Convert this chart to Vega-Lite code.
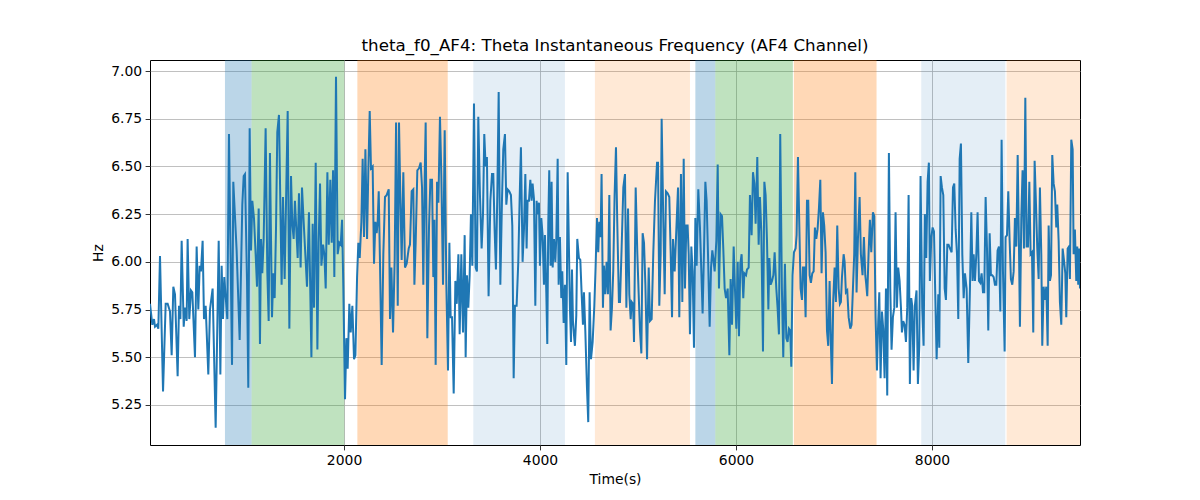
{
  "$schema": "https://vega.github.io/schema/vega-lite/v6.json",
  "width": 930,
  "height": 385,
  "autosize": {"type": "none"},
  "padding": {"left": 150, "top": 60, "right": 120, "bottom": 55},
  "background": "white",
  "title": {
    "text": "theta_f0_AF4: Theta Instantaneous Frequency (AF4 Channel)",
    "font": "DejaVu Sans",
    "fontSize": 16.7,
    "fontWeight": "normal",
    "color": "black",
    "offset": 5
  },
  "config": {
    "view": {"stroke": "black", "strokeWidth": 1},
    "axis": {
      "labelFont": "DejaVu Sans",
      "labelFontSize": 13.9,
      "labelColor": "black",
      "titleFont": "DejaVu Sans",
      "titleFontSize": 13.9,
      "titleFontWeight": "normal",
      "titleColor": "black",
      "domain": false,
      "tickColor": "black",
      "tickWidth": 0.8,
      "tickSize": 4.9,
      "labelPadding": 3.5,
      "gridColor": "#b0b0b0",
      "gridWidth": 0.8
    }
  },
  "datasets": {
    "bands": [
      {"start": 785, "end": 1057, "kind": "blue"},
      {"start": 1057, "end": 2003, "kind": "green"},
      {"start": 2136, "end": 3058, "kind": "orange"},
      {"start": 3319, "end": 4254, "kind": "lightblue"},
      {"start": 4560, "end": 5530, "kind": "lightorange"},
      {"start": 5585, "end": 5789, "kind": "blue"},
      {"start": 5789, "end": 6580, "kind": "green"},
      {"start": 6590, "end": 7434, "kind": "orange"},
      {"start": 7890, "end": 8748, "kind": "lightblue"},
      {"start": 8761, "end": 9510, "kind": "lightorange"}
    ],
    "signal": [
      {"t":20,"hz":5.78},{"t":44,"hz":5.67},{"t":61,"hz":5.70},{"t":71,"hz":5.66},{"t":91,"hz":5.67},{"t":105,"hz":5.65},{"t":122,"hz":6.03},{"t":153,"hz":5.32},{"t":180,"hz":5.78},{"t":200,"hz":5.78},
      {"t":224,"hz":5.74},{"t":241,"hz":5.51},{"t":258,"hz":5.87},{"t":275,"hz":5.83},{"t":302,"hz":5.40},{"t":316,"hz":5.77},{"t":330,"hz":5.70},{"t":343,"hz":6.11},{"t":364,"hz":5.66},{"t":377,"hz":5.76},
      {"t":394,"hz":5.69},{"t":404,"hz":6.12},{"t":421,"hz":5.70},{"t":438,"hz":5.85},{"t":452,"hz":5.84},{"t":479,"hz":5.50},{"t":496,"hz":6.08},{"t":513,"hz":5.75},{"t":527,"hz":5.98},{"t":540,"hz":5.95},
      {"t":557,"hz":6.11},{"t":571,"hz":5.70},{"t":588,"hz":5.77},{"t":615,"hz":5.41},{"t":632,"hz":5.75},{"t":659,"hz":5.86},{"t":690,"hz":5.13},{"t":721,"hz":6.11},{"t":738,"hz":5.41},{"t":751,"hz":5.98},
      {"t":765,"hz":5.70},{"t":778,"hz":5.92},{"t":809,"hz":5.70},{"t":826,"hz":6.67},{"t":857,"hz":5.46},{"t":870,"hz":6.42},{"t":904,"hz":6.06},{"t":935,"hz":5.59},{"t":962,"hz":6.30},{"t":976,"hz":6.45},
      {"t":989,"hz":6.46},{"t":1010,"hz":5.90},{"t":1023,"hz":5.34},{"t":1037,"hz":6.70},{"t":1051,"hz":6.06},{"t":1064,"hz":6.32},{"t":1081,"hz":6.23},{"t":1098,"hz":6.04},{"t":1112,"hz":5.87},{"t":1129,"hz":6.28},
      {"t":1142,"hz":5.57},{"t":1153,"hz":6.12},{"t":1166,"hz":5.94},{"t":1180,"hz":6.12},{"t":1200,"hz":6.70},{"t":1217,"hz":5.95},{"t":1231,"hz":5.69},{"t":1244,"hz":6.57},{"t":1265,"hz":5.71},{"t":1278,"hz":5.94},
      {"t":1292,"hz":5.81},{"t":1306,"hz":6.18},{"t":1319,"hz":6.68},{"t":1336,"hz":6.77},{"t":1363,"hz":5.88},{"t":1377,"hz":6.34},{"t":1394,"hz":5.91},{"t":1408,"hz":6.31},{"t":1425,"hz":6.79},{"t":1442,"hz":5.65},
      {"t":1459,"hz":6.45},{"t":1472,"hz":6.20},{"t":1486,"hz":6.12},{"t":1499,"hz":6.32},{"t":1527,"hz":6.02},{"t":1540,"hz":6.36},{"t":1557,"hz":5.97},{"t":1571,"hz":6.39},{"t":1591,"hz":6.18},{"t":1622,"hz":5.87},
      {"t":1642,"hz":6.26},{"t":1667,"hz":5.50},{"t":1680,"hz":6.20},{"t":1694,"hz":5.76},{"t":1711,"hz":6.52},{"t":1728,"hz":5.54},{"t":1741,"hz":6.10},{"t":1755,"hz":6.41},{"t":1769,"hz":5.98},{"t":1786,"hz":6.09},
      {"t":1799,"hz":6.04},{"t":1813,"hz":5.86},{"t":1830,"hz":6.47},{"t":1844,"hz":6.09},{"t":1860,"hz":6.43},{"t":1874,"hz":6.10},{"t":1888,"hz":6.48},{"t":1901,"hz":5.92},{"t":1918,"hz":6.97},{"t":1935,"hz":6.04},
      {"t":1952,"hz":6.10},{"t":1966,"hz":6.09},{"t":1980,"hz":6.22},{"t":1993,"hz":5.86},{"t":2010,"hz":5.28},{"t":2024,"hz":5.60},{"t":2037,"hz":5.44},{"t":2054,"hz":5.78},{"t":2068,"hz":5.63},{"t":2085,"hz":5.77},
      {"t":2102,"hz":5.49},{"t":2116,"hz":5.51},{"t":2133,"hz":5.92},{"t":2146,"hz":6.10},{"t":2160,"hz":6.02},{"t":2177,"hz":6.21},{"t":2190,"hz":6.54},{"t":2204,"hz":6.13},{"t":2218,"hz":6.59},{"t":2235,"hz":6.12},
      {"t":2248,"hz":6.48},{"t":2262,"hz":6.79},{"t":2275,"hz":6.49},{"t":2292,"hz":6.50},{"t":2306,"hz":5.99},{"t":2320,"hz":6.21},{"t":2333,"hz":6.15},{"t":2343,"hz":6.21},{"t":2354,"hz":6.37},{"t":2367,"hz":5.99},
      {"t":2384,"hz":5.46},{"t":2401,"hz":6.04},{"t":2418,"hz":6.34},{"t":2435,"hz":6.35},{"t":2456,"hz":6.38},{"t":2469,"hz":5.70},{"t":2483,"hz":5.97},{"t":2500,"hz":5.63},{"t":2517,"hz":6.02},{"t":2531,"hz":6.73},
      {"t":2548,"hz":5.77},{"t":2561,"hz":6.73},{"t":2575,"hz":6.33},{"t":2588,"hz":6.01},{"t":2605,"hz":6.47},{"t":2622,"hz":5.97},{"t":2639,"hz":5.99},{"t":2660,"hz":6.07},{"t":2673,"hz":6.09},{"t":2690,"hz":6.37},
      {"t":2707,"hz":6.38},{"t":2718,"hz":5.88},{"t":2731,"hz":6.10},{"t":2748,"hz":6.48},{"t":2765,"hz":6.49},{"t":2782,"hz":6.52},{"t":2796,"hz":6.39},{"t":2809,"hz":5.88},{"t":2823,"hz":6.44},{"t":2833,"hz":6.73},
      {"t":2850,"hz":5.60},{"t":2867,"hz":6.18},{"t":2881,"hz":6.43},{"t":2898,"hz":6.43},{"t":2911,"hz":5.92},{"t":2922,"hz":6.22},{"t":2935,"hz":5.46},{"t":2949,"hz":6.42},{"t":2963,"hz":6.31},{"t":2979,"hz":6.76},
      {"t":2993,"hz":6.45},{"t":3010,"hz":5.88},{"t":3027,"hz":6.69},{"t":3044,"hz":5.88},{"t":3061,"hz":5.43},{"t":3075,"hz":6.10},{"t":3088,"hz":5.71},{"t":3102,"hz":5.71},{"t":3119,"hz":5.31},{"t":3136,"hz":5.90},
      {"t":3150,"hz":5.78},{"t":3167,"hz":6.04},{"t":3180,"hz":5.62},{"t":3197,"hz":6.04},{"t":3214,"hz":5.63},{"t":3231,"hz":6.14},{"t":3241,"hz":5.50},{"t":3254,"hz":5.93},{"t":3268,"hz":5.76},{"t":3282,"hz":5.93},
      {"t":3295,"hz":6.25},{"t":3309,"hz":5.98},{"t":3326,"hz":6.83},{"t":3343,"hz":5.97},{"t":3356,"hz":5.95},{"t":3370,"hz":6.76},{"t":3387,"hz":6.35},{"t":3404,"hz":6.07},{"t":3418,"hz":6.25},{"t":3431,"hz":6.67},
      {"t":3445,"hz":6.50},{"t":3458,"hz":6.55},{"t":3475,"hz":5.82},{"t":3493,"hz":6.32},{"t":3510,"hz":6.46},{"t":3523,"hz":6.46},{"t":3537,"hz":6.16},{"t":3550,"hz":5.96},{"t":3564,"hz":6.35},{"t":3578,"hz":6.89},
      {"t":3595,"hz":5.88},{"t":3612,"hz":6.33},{"t":3625,"hz":6.59},{"t":3642,"hz":6.67},{"t":3656,"hz":6.30},{"t":3669,"hz":6.38},{"t":3686,"hz":6.37},{"t":3703,"hz":6.35},{"t":3717,"hz":6.19},{"t":3731,"hz":5.39},
      {"t":3744,"hz":5.77},{"t":3761,"hz":5.77},{"t":3778,"hz":6.00},{"t":3792,"hz":6.33},{"t":3805,"hz":6.60},{"t":3822,"hz":6.00},{"t":3836,"hz":6.17},{"t":3850,"hz":6.46},{"t":3863,"hz":6.07},{"t":3873,"hz":6.32},
      {"t":3887,"hz":6.32},{"t":3901,"hz":6.43},{"t":3914,"hz":6.32},{"t":3924,"hz":6.41},{"t":3938,"hz":6.33},{"t":3952,"hz":5.77},{"t":3965,"hz":6.32},{"t":3975,"hz":6.25},{"t":3989,"hz":6.31},{"t":3999,"hz":5.98},
      {"t":4013,"hz":6.23},{"t":4026,"hz":6.14},{"t":4040,"hz":5.88},{"t":4050,"hz":6.14},{"t":4064,"hz":5.84},{"t":4074,"hz":5.57},{"t":4084,"hz":6.20},{"t":4094,"hz":6.48},{"t":4108,"hz":5.98},{"t":4118,"hz":6.42},
      {"t":4129,"hz":5.97},{"t":4142,"hz":6.12},{"t":4156,"hz":6.00},{"t":4166,"hz":6.12},{"t":4180,"hz":6.54},{"t":4190,"hz":5.88},{"t":4203,"hz":6.13},{"t":4217,"hz":5.81},{"t":4227,"hz":5.95},{"t":4241,"hz":5.68},
      {"t":4254,"hz":5.88},{"t":4268,"hz":5.46},{"t":4282,"hz":6.47},{"t":4295,"hz":6.07},{"t":4305,"hz":5.76},{"t":4316,"hz":5.58},{"t":4326,"hz":5.96},{"t":4336,"hz":5.69},{"t":4346,"hz":5.62},{"t":4356,"hz":5.56},
      {"t":4370,"hz":5.72},{"t":4380,"hz":6.12},{"t":4397,"hz":6.02},{"t":4411,"hz":6.01},{"t":4424,"hz":5.84},{"t":4438,"hz":5.67},{"t":4448,"hz":5.84},{"t":4462,"hz":5.64},{"t":4479,"hz":5.34},{"t":4492,"hz":5.16},
      {"t":4506,"hz":5.84},{"t":4520,"hz":5.49},{"t":4537,"hz":5.58},{"t":4554,"hz":5.77},{"t":4567,"hz":5.97},{"t":4581,"hz":6.23},{"t":4594,"hz":6.05},{"t":4605,"hz":6.21},{"t":4618,"hz":6.13},{"t":4628,"hz":6.46},
      {"t":4642,"hz":5.76},{"t":4652,"hz":5.98},{"t":4666,"hz":5.83},{"t":4679,"hz":6.00},{"t":4693,"hz":5.83},{"t":4707,"hz":6.35},{"t":4720,"hz":5.64},{"t":4734,"hz":5.76},{"t":4747,"hz":5.95},{"t":4761,"hz":6.35},
      {"t":4775,"hz":6.60},{"t":4788,"hz":6.21},{"t":4805,"hz":5.79},{"t":4816,"hz":5.79},{"t":4833,"hz":6.08},{"t":4850,"hz":6.39},{"t":4867,"hz":6.46},{"t":4881,"hz":5.76},{"t":4898,"hz":6.28},{"t":4911,"hz":5.83},
      {"t":4925,"hz":5.70},{"t":4935,"hz":5.79},{"t":4949,"hz":5.78},{"t":4959,"hz":5.58},{"t":4976,"hz":6.39},{"t":4993,"hz":6.04},{"t":5006,"hz":5.84},{"t":5020,"hz":5.64},{"t":5034,"hz":5.52},{"t":5047,"hz":6.15},
      {"t":5061,"hz":6.10},{"t":5075,"hz":5.88},{"t":5092,"hz":5.49},{"t":5109,"hz":5.97},{"t":5122,"hz":5.69},{"t":5139,"hz":5.70},{"t":5156,"hz":6.05},{"t":5173,"hz":6.32},{"t":5194,"hz":6.52},{"t":5204,"hz":6.52},
      {"t":5217,"hz":5.77},{"t":5231,"hz":6.04},{"t":5241,"hz":6.75},{"t":5258,"hz":6.21},{"t":5272,"hz":5.83},{"t":5285,"hz":6.37},{"t":5302,"hz":6.36},{"t":5319,"hz":6.34},{"t":5333,"hz":6.05},{"t":5347,"hz":5.71},
      {"t":5357,"hz":6.12},{"t":5374,"hz":5.95},{"t":5387,"hz":6.12},{"t":5408,"hz":6.39},{"t":5421,"hz":5.71},{"t":5438,"hz":6.46},{"t":5452,"hz":5.79},{"t":5466,"hz":6.54},{"t":5479,"hz":5.86},{"t":5493,"hz":6.19},
      {"t":5506,"hz":6.19},{"t":5517,"hz":6.04},{"t":5530,"hz":5.62},{"t":5544,"hz":6.08},{"t":5557,"hz":5.95},{"t":5571,"hz":5.55},{"t":5585,"hz":6.23},{"t":5598,"hz":5.98},{"t":5615,"hz":6.38},{"t":5632,"hz":6.18},
      {"t":5646,"hz":5.95},{"t":5659,"hz":5.73},{"t":5673,"hz":6.05},{"t":5687,"hz":6.42},{"t":5700,"hz":6.32},{"t":5714,"hz":6.04},{"t":5731,"hz":5.66},{"t":5745,"hz":5.97},{"t":5758,"hz":6.06},{"t":5768,"hz":6.02},
      {"t":5782,"hz":5.95},{"t":5799,"hz":6.11},{"t":5813,"hz":6.51},{"t":5826,"hz":5.86},{"t":5843,"hz":6.25},{"t":5857,"hz":6.24},{"t":5870,"hz":6.07},{"t":5884,"hz":5.86},{"t":5898,"hz":5.81},{"t":5915,"hz":5.86},
      {"t":5932,"hz":5.51},{"t":5945,"hz":5.91},{"t":5959,"hz":5.67},{"t":5976,"hz":6.08},{"t":5989,"hz":5.86},{"t":6003,"hz":5.65},{"t":6017,"hz":6.00},{"t":6030,"hz":5.61},{"t":6044,"hz":5.99},{"t":6057,"hz":6.04},
      {"t":6074,"hz":5.81},{"t":6085,"hz":5.94},{"t":6102,"hz":5.93},{"t":6112,"hz":5.96},{"t":6129,"hz":5.97},{"t":6142,"hz":6.35},{"t":6159,"hz":6.14},{"t":6173,"hz":6.47},{"t":6187,"hz":6.41},{"t":6200,"hz":6.20},
      {"t":6217,"hz":6.55},{"t":6231,"hz":6.09},{"t":6244,"hz":6.34},{"t":6258,"hz":6.16},{"t":6275,"hz":5.53},{"t":6289,"hz":6.42},{"t":6302,"hz":6.35},{"t":6316,"hz":6.11},{"t":6330,"hz":5.75},{"t":6340,"hz":6.02},
      {"t":6353,"hz":5.88},{"t":6367,"hz":5.90},{"t":6381,"hz":5.93},{"t":6394,"hz":6.05},{"t":6411,"hz":5.86},{"t":6424,"hz":5.76},{"t":6438,"hz":5.62},{"t":6451,"hz":6.67},{"t":6468,"hz":5.86},{"t":6482,"hz":5.50},
      {"t":6499,"hz":5.99},{"t":6513,"hz":5.60},{"t":6526,"hz":5.58},{"t":6540,"hz":5.65},{"t":6553,"hz":5.64},{"t":6564,"hz":5.45},{"t":6577,"hz":5.93},{"t":6591,"hz":6.05},{"t":6608,"hz":6.07},{"t":6618,"hz":6.14},
      {"t":6632,"hz":6.55},{"t":6645,"hz":6.21},{"t":6659,"hz":5.86},{"t":6673,"hz":5.80},{"t":6683,"hz":5.97},{"t":6696,"hz":5.97},{"t":6710,"hz":5.71},{"t":6724,"hz":6.32},{"t":6737,"hz":6.32},{"t":6751,"hz":5.93},
      {"t":6764,"hz":5.89},{"t":6778,"hz":5.94},{"t":6792,"hz":5.95},{"t":6805,"hz":6.18},{"t":6819,"hz":6.12},{"t":6832,"hz":6.17},{"t":6846,"hz":6.28},{"t":6860,"hz":6.43},{"t":6873,"hz":5.94},{"t":6887,"hz":6.26},
      {"t":6900,"hz":6.19},{"t":6914,"hz":6.05},{"t":6928,"hz":5.64},{"t":6941,"hz":5.56},{"t":6955,"hz":5.90},{"t":6968,"hz":5.57},{"t":6979,"hz":5.36},{"t":6992,"hz":5.80},{"t":7006,"hz":5.97},{"t":7019,"hz":5.79},
      {"t":7033,"hz":6.19},{"t":7047,"hz":5.86},{"t":7060,"hz":5.78},{"t":7070,"hz":5.79},{"t":7081,"hz":5.92},{"t":7098,"hz":6.04},{"t":7108,"hz":6.00},{"t":7121,"hz":5.84},{"t":7135,"hz":5.85},{"t":7149,"hz":5.71},
      {"t":7166,"hz":5.65},{"t":7179,"hz":5.67},{"t":7193,"hz":5.86},{"t":7206,"hz":6.04},{"t":7217,"hz":6.47},{"t":7230,"hz":5.84},{"t":7244,"hz":6.12},{"t":7261,"hz":6.34},{"t":7274,"hz":6.04},{"t":7291,"hz":5.93},
      {"t":7305,"hz":6.13},{"t":7319,"hz":5.93},{"t":7329,"hz":5.88},{"t":7339,"hz":5.82},{"t":7353,"hz":6.05},{"t":7366,"hz":6.22},{"t":7380,"hz":6.05},{"t":7397,"hz":6.26},{"t":7411,"hz":6.24},{"t":7424,"hz":5.71},
      {"t":7438,"hz":5.43},{"t":7451,"hz":5.69},{"t":7462,"hz":5.84},{"t":7475,"hz":5.39},{"t":7489,"hz":5.74},{"t":7502,"hz":5.65},{"t":7516,"hz":5.39},{"t":7530,"hz":5.86},{"t":7543,"hz":5.30},{"t":7560,"hz":6.57},
      {"t":7574,"hz":5.86},{"t":7587,"hz":5.54},{"t":7601,"hz":5.71},{"t":7615,"hz":5.76},{"t":7628,"hz":6.26},{"t":7642,"hz":5.76},{"t":7655,"hz":5.97},{"t":7669,"hz":5.90},{"t":7683,"hz":5.76},{"t":7693,"hz":5.63},
      {"t":7706,"hz":5.69},{"t":7720,"hz":5.67},{"t":7734,"hz":5.58},{"t":7747,"hz":5.76},{"t":7761,"hz":6.35},{"t":7774,"hz":5.36},{"t":7788,"hz":5.81},{"t":7798,"hz":5.77},{"t":7812,"hz":5.43},{"t":7825,"hz":5.77},
      {"t":7842,"hz":5.85},{"t":7856,"hz":5.36},{"t":7870,"hz":5.56},{"t":7883,"hz":6.45},{"t":7900,"hz":5.76},{"t":7914,"hz":5.56},{"t":7927,"hz":6.25},{"t":7941,"hz":6.02},{"t":7955,"hz":6.42},{"t":7968,"hz":6.52},
      {"t":7978,"hz":5.90},{"t":7993,"hz":6.13},{"t":8006,"hz":6.18},{"t":8020,"hz":6.16},{"t":8033,"hz":5.83},{"t":8047,"hz":5.49},{"t":8064,"hz":5.83},{"t":8074,"hz":5.55},{"t":8088,"hz":6.45},{"t":8101,"hz":6.39},
      {"t":8115,"hz":6.35},{"t":8129,"hz":5.86},{"t":8142,"hz":5.80},{"t":8156,"hz":6.09},{"t":8169,"hz":6.09},{"t":8183,"hz":6.07},{"t":8200,"hz":6.05},{"t":8214,"hz":6.39},{"t":8227,"hz":6.41},{"t":8241,"hz":6.17},
      {"t":8255,"hz":6.04},{"t":8268,"hz":5.70},{"t":8282,"hz":6.54},{"t":8295,"hz":6.62},{"t":8309,"hz":6.04},{"t":8323,"hz":5.81},{"t":8336,"hz":5.94},{"t":8353,"hz":5.86},{"t":8370,"hz":5.47},{"t":8387,"hz":5.86},
      {"t":8401,"hz":6.26},{"t":8414,"hz":5.90},{"t":8425,"hz":6.04},{"t":8438,"hz":5.90},{"t":8452,"hz":6.04},{"t":8465,"hz":6.26},{"t":8479,"hz":5.90},{"t":8493,"hz":5.89},{"t":8506,"hz":5.94},{"t":8520,"hz":5.84},
      {"t":8533,"hz":5.84},{"t":8547,"hz":6.34},{"t":8561,"hz":6.07},{"t":8574,"hz":5.64},{"t":8588,"hz":6.15},{"t":8601,"hz":5.93},{"t":8615,"hz":5.93},{"t":8629,"hz":5.92},{"t":8642,"hz":5.88},{"t":8656,"hz":5.88},
      {"t":8669,"hz":6.06},{"t":8683,"hz":6.08},{"t":8697,"hz":5.74},{"t":8710,"hz":6.64},{"t":8724,"hz":5.95},{"t":8741,"hz":5.53},{"t":8751,"hz":6.13},{"t":8765,"hz":6.14},{"t":8778,"hz":6.37},{"t":8792,"hz":6.11},
      {"t":8805,"hz":5.91},{"t":8819,"hz":5.88},{"t":8833,"hz":5.95},{"t":8846,"hz":6.23},{"t":8860,"hz":6.08},{"t":8874,"hz":6.56},{"t":8887,"hz":6.09},{"t":8897,"hz":5.66},{"t":8911,"hz":6.23},{"t":8924,"hz":6.48},
      {"t":8938,"hz":6.07},{"t":8952,"hz":6.86},{"t":8965,"hz":6.08},{"t":8979,"hz":6.08},{"t":8993,"hz":6.42},{"t":9006,"hz":6.04},{"t":9020,"hz":6.05},{"t":9033,"hz":5.63},{"t":9047,"hz":6.53},{"t":9061,"hz":6.30},
      {"t":9074,"hz":6.07},{"t":9088,"hz":5.91},{"t":9101,"hz":6.39},{"t":9115,"hz":6.04},{"t":9125,"hz":5.56},{"t":9139,"hz":5.87},{"t":9152,"hz":5.80},{"t":9166,"hz":5.87},{"t":9180,"hz":5.56},{"t":9190,"hz":6.19},
      {"t":9203,"hz":5.90},{"t":9214,"hz":5.93},{"t":9227,"hz":6.56},{"t":9241,"hz":6.41},{"t":9254,"hz":6.37},{"t":9268,"hz":6.18},{"t":9278,"hz":6.30},{"t":9292,"hz":6.11},{"t":9305,"hz":5.79},{"t":9319,"hz":5.67},
      {"t":9333,"hz":6.07},{"t":9346,"hz":6.01},{"t":9360,"hz":5.94},{"t":9370,"hz":5.71},{"t":9384,"hz":6.07},{"t":9397,"hz":6.08},{"t":9407,"hz":5.91},{"t":9421,"hz":6.64},{"t":9435,"hz":6.59},{"t":9445,"hz":6.04},
      {"t":9458,"hz":6.17},{"t":9472,"hz":5.90},{"t":9482,"hz":6.08},{"t":9492,"hz":5.88},{"t":9500,"hz":6.07},{"t":9510,"hz":5.86}
    ]
  },
  "layer": [
    {
      "data": {"name": "bands"},
      "mark": {"type": "rect", "clip": true},
      "encoding": {
        "x": {
          "field": "start", "type": "quantitative",
          "scale": {"domain": [20, 9510], "nice": false, "zero": false},
          "axis": {"title": "Time(s)", "values": [2000, 4000, 6000, 8000], "format": "d", "titlePadding": 5}
        },
        "x2": {"field": "end"},
        "color": {
          "field": "kind", "type": "nominal", "legend": null,
          "scale": {
            "domain": ["blue", "green", "orange", "lightblue", "lightorange"],
            "range": ["rgba(31,119,180,0.3)", "rgba(44,160,44,0.3)", "rgba(255,127,14,0.3)", "rgba(31,119,180,0.12)", "rgba(255,127,14,0.17)"]
          }
        }
      }
    },
    {
      "data": {"name": "signal"},
      "mark": {"type": "line", "color": "#1f77b4", "strokeWidth": 2, "clip": true},
      "encoding": {
        "x": {
          "field": "t", "type": "quantitative",
          "scale": {"domain": [20, 9510], "nice": false, "zero": false},
          "axis": {"title": "Time(s)", "values": [2000, 4000, 6000, 8000], "format": "d", "titlePadding": 5}
        },
        "y": {
          "field": "hz", "type": "quantitative",
          "scale": {"domain": [5.04, 7.058], "nice": false, "zero": false},
          "axis": {"title": "Hz", "values": [5.25, 5.5, 5.75, 6.0, 6.25, 6.5, 6.75, 7.0], "format": ".2f", "titlePadding": 5}
        }
      }
    }
  ]
}
